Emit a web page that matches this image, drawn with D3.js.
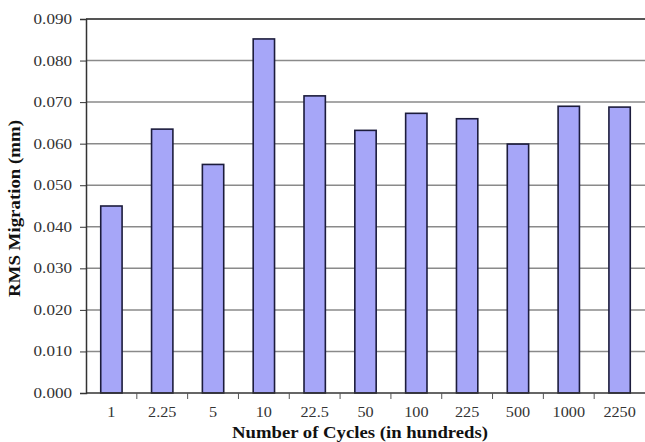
<!DOCTYPE html>
<html><head><meta charset="utf-8">
<script src="https://cdn.jsdelivr.net/npm/d3@7/dist/d3.min.js"></script>
<style>body{margin:0;background:#fff}</style>
</head><body>
<svg id="c" width="645" height="442"></svg>
<script>
const categories = ["1","2.25","5","10","22.5","50","100","225","500","1000","2250"];
const values = [0.045,0.0635,0.055,0.0852,0.0715,0.0632,0.0673,0.066,0.0599,0.069,0.0688];
const yTicks = [0,0.01,0.02,0.03,0.04,0.05,0.06,0.07,0.08,0.09];

const svg = d3.select("#c");
const m = {l:86, r:645, t:19, b:393};
const x = d3.scaleBand().domain(categories).range([m.l, m.r]).paddingInner(0.58).paddingOuter(0.29);
const y = d3.scaleLinear().domain([0,0.09]).range([m.b, m.t]);
const serif = "Liberation Serif, Times New Roman, serif";

function stretch(sel, f) {
  sel.each(function(){ const w = this.getComputedTextLength(); d3.select(this).attr("textLength", w*f).attr("lengthAdjust","spacingAndGlyphs"); });
}

// gridlines
svg.append("g").selectAll("line").data(yTicks.filter(d=>d>0 && d<0.09)).join("line")
  .attr("x1", m.l).attr("x2", m.r).attr("y1", d=>y(d)).attr("y2", d=>y(d))
  .attr("stroke", "#8a8a8a").attr("stroke-width", 1.5);
// top border
svg.append("line").attr("x1", m.l).attr("x2", m.r).attr("y1", y(0.09)).attr("y2", y(0.09))
  .attr("stroke", "#555").attr("stroke-width", 2);

// bars
svg.append("g").selectAll("rect").data(values).join("rect")
  .attr("x", (d,i)=>x(categories[i])).attr("width", x.bandwidth())
  .attr("y", d=>y(d)).attr("height", d=>y(0)-y(d))
  .attr("fill", "#a6a6f8").attr("stroke", "#1c1c3c").attr("stroke-width", 1.6);

// y axis
const ya = svg.append("g").attr("transform", `translate(${m.l},0)`)
  .call(d3.axisLeft(y).tickValues(yTicks).tickFormat(d3.format(".3f")).tickSize(6).tickPadding(8));
ya.select(".domain").attr("stroke", "#333").attr("stroke-width", 1.5);
ya.selectAll(".tick line").attr("stroke", "#333");
ya.selectAll("text").attr("font-family", serif).attr("font-size", 14).attr("fill", "#333");
stretch(ya.selectAll("text"), 1.22);

// x axis
const step = x.step();
const xa = svg.append("g").attr("transform", `translate(0,${m.b})`)
  .call(d3.axisBottom(x).tickSize(0).tickPadding(13));
xa.select(".domain").remove();
svg.append("line").attr("x1", m.l).attr("x2", m.r).attr("y1", m.b).attr("y2", m.b).attr("stroke", "#333").attr("stroke-width", 1.5);
svg.append("g").selectAll("line").data(categories.slice(1)).join("line")
  .attr("x1", d=>x(d) - (step - x.bandwidth())/2).attr("x2", d=>x(d) - (step - x.bandwidth())/2)
  .attr("y1", m.b).attr("y2", m.b+6).attr("stroke", "#555");
xa.selectAll("text").attr("font-family", serif).attr("font-size", 15).attr("fill", "#333");
stretch(xa.selectAll("text"), 1.08);

// titles
svg.append("text").attr("x", 360).attr("y", 438).attr("text-anchor", "middle")
  .attr("font-family", serif).attr("font-weight", "bold").attr("font-size", 16).attr("fill", "#111")
  .attr("textLength", 256).attr("lengthAdjust", "spacingAndGlyphs")
  .text("Number of Cycles (in hundreds)");
svg.append("text").attr("transform", `translate(20,${(120+297)/2}) rotate(-90)`).attr("text-anchor", "middle")
  .attr("font-family", serif).attr("font-weight", "bold").attr("font-size", 16).attr("fill", "#111")
  .attr("textLength", 177).attr("lengthAdjust", "spacingAndGlyphs")
  .text("RMS Migration (mm)");
</script>
</body></html>
